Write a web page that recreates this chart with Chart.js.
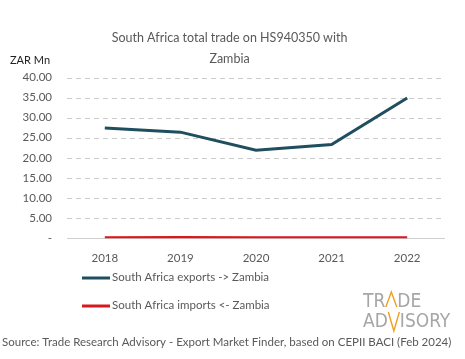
<!DOCTYPE html>
<html>
<head>
<meta charset="utf-8">
<script src="https://cdn.jsdelivr.net/npm/chart.js@4"></script>
<style>
  html, body { margin: 0; padding: 0; background: #fff; }
  #wrap { width: 465px; height: 359px; }
</style>
</head>
<body>
<div id="wrap"><canvas id="myChart" width="465" height="359"></canvas></div>
<script>
const years = ["2018", "2019", "2020", "2021", "2022"]
const exportsZm = [27.4, 26.4, 21.9, 23.3, 34.9]
const importsZm = [0.1, 0.15, 0.1, 0.1, 0.1]
const seriesNames = ["South Africa exports -> Zambia", "South Africa imports <- Zambia"]
const seriesColors = ["#1f4e5f", "#d7191c"]

const fontName = "Lato, 'Open Sans', sans-serif"
const grey = "#595959"

// dashed gridlines from the y scale ticks
const dashGrid = {
  id: "dashGrid",
  beforeDatasetsDraw: (chart) => {
    const ctx = chart.ctx
    const y = chart.scales.y
    const area = chart.chartArea
    ctx.save()
    ctx.lineWidth = 1
    y.ticks.forEach((t) => {
      const py = Math.round(y.getPixelForValue(t.value)) + 0.5
      ctx.strokeStyle = t.value === 0 ? "#cfcfcf" : "#cccccc"
      ctx.setLineDash(t.value === 0 ? [] : [5, 4])
      ctx.beginPath()
      ctx.moveTo(area.left, py)
      ctx.lineTo(area.right, py)
      ctx.stroke()
    })
    ctx.restore()
  }
}

// legend, unit label, source and logo drawn by hand
const extras = {
  id: "extras",
  afterDraw: (chart) => {
    const ctx = chart.ctx
    ctx.save()
    ctx.fillStyle = "#222"
    ctx.font = "11px " + fontName
    ctx.textAlign = "left"
    ctx.textBaseline = "middle"
    ctx.fillText("ZAR Mn", 10, 60)

    // legend
    const rows = [278, 306]
    chart.data.datasets.forEach((ds, i) => {
      ctx.strokeStyle = ds.borderColor
      ctx.lineWidth = 3
      ctx.beginPath()
      ctx.moveTo(82, rows[i])
      ctx.lineTo(110, rows[i])
      ctx.stroke()
      ctx.fillStyle = grey
      ctx.font = "11.5px " + fontName
      ctx.fillText(ds.label, 112, rows[i] - 1)
    })

    // source
    ctx.fillStyle = grey
    ctx.font = "11.5px " + fontName
    ctx.fillText("Source: Trade Research Advisory - Export Market Finder, based on CEPII BACI (Feb 2024)", 2, 342)

    // logo
    ctx.fillStyle = "#a6a6a6"
    ctx.font = "19px 'Liberation Sans Narrow', 'DejaVu Sans Condensed', sans-serif"
    ctx.textBaseline = "alphabetic"
    let x = 363
    ctx.fillText("TR", x, 307)
    x += ctx.measureText("TR").width
    const a1 = x
    x += 12
    ctx.fillText("DE", x, 307)
    x = 363
    ctx.fillText("AD", x, 327)
    x += ctx.measureText("AD").width
    const v1 = x
    x += 12
    ctx.fillText("ISORY", x, 327)
    ctx.strokeStyle = "#f0a020"
    ctx.lineWidth = 1.4
    ctx.beginPath()
    ctx.moveTo(a1 + 0.5, 307)
    ctx.lineTo(a1 + 6, 292)
    ctx.lineTo(a1 + 11.5, 307)
    ctx.stroke()
    ctx.beginPath()
    ctx.moveTo(v1 + 0.5, 312)
    ctx.lineTo(v1 + 6, 331)
    ctx.lineTo(v1 + 11.5, 312)
    ctx.stroke()
    ctx.restore()
  }
}

new Chart("myChart", {
  type: "line",
  data: {
    labels: years,
    datasets: [{
      label: seriesNames[0],
      data: exportsZm,
      borderColor: seriesColors[0],
      backgroundColor: seriesColors[0],
      borderWidth: 3,
      pointRadius: 0,
      tension: 0
    }, {
      label: seriesNames[1],
      data: importsZm,
      borderColor: seriesColors[1],
      backgroundColor: seriesColors[1],
      borderWidth: 3,
      pointRadius: 0,
      tension: 0
    }]
  },
  options: {
    responsive: false,
    animation: false,
    layout: { padding: { left: 14, right: 20, top: 0, bottom: 89 } },
    plugins: {
      legend: { display: false },
      tooltip: { enabled: false },
      title: {
        display: true,
        text: ["South Africa total trade on HS940350 with", "Zambia"],
        color: grey,
        font: { family: fontName, size: 12.5, weight: "normal", lineHeight: 1.7 },
        padding: { top: 27, bottom: 8 }
      }
    },
    scales: {
      x: {
        offset: true,
        grid: { display: false },
        border: { display: false },
        ticks: { color: grey, font: { family: fontName, size: 11.5 }, padding: 5 }
      },
      y: {
        min: 0,
        max: 40,
        afterFit: (s) => { s.width = 53 },
        ticks: {
          stepSize: 5,
          color: grey,
          font: { family: fontName, size: 11.5 },
          padding: 15,
          callback: (v) => v === 0 ? "-" : v.toFixed(2)
        },
        border: { display: false },
        grid: { display: false, drawTicks: false }
      }
    }
  },
  plugins: [dashGrid, extras]
})
</script>
</body>
</html>
